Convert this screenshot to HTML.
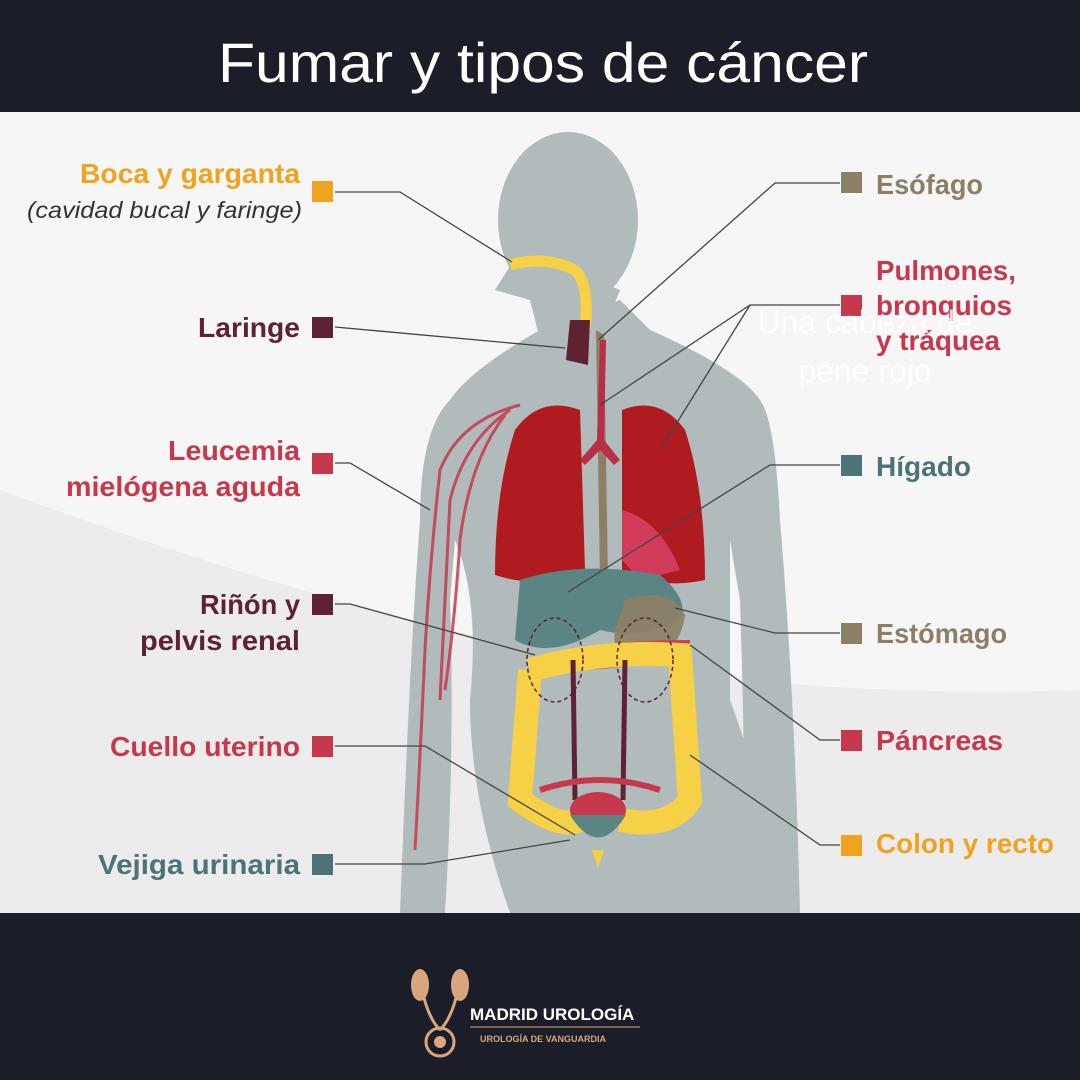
<!DOCTYPE html>
<html><head><meta charset="utf-8"><style>
html,body{margin:0;padding:0;background:#1b1e29}
svg{display:block}
.t{font-family:"Liberation Sans",sans-serif;font-weight:bold;font-size:28px}
</style></head><body>
<svg width="1080" height="1080" viewBox="0 0 1080 1080" xmlns="http://www.w3.org/2000/svg">
<rect width="1080" height="1080" fill="#1b1e29"/>
<text x="218" y="82" textLength="650" lengthAdjust="spacingAndGlyphs" font-family="'Liberation Sans',sans-serif" font-size="56" fill="#fff">Fumar y tipos de cáncer</text>
<rect x="0" y="112" width="1080" height="801" fill="#f6f6f6"/>
<path d="M0 490 Q300 600 540 650 Q800 700 1080 690 L1080 913 L0 913Z" fill="#ececec"/>
<g fill="#b1bbbb">
<ellipse cx="568" cy="220" rx="70" ry="88"/>
<path d="M520 250 L495 290 L530 300 L540 340 L600 340 L620 290Z"/>
<path d="M540 330 Q470 370 450 400 Q420 430 420 520 Q410 650 400 913 L445 913 Q455 750 450 600 L455 540 Q480 600 470 700 Q470 800 510 913 L790 913 Q760 780 730 700 L730 540 L740 600 Q745 750 745 913 L800 913 Q795 700 780 520 Q775 420 760 400 Q740 370 650 330 L620 300Z"/>
</g>
<g stroke="#c8384d" stroke-width="3" fill="none" opacity="0.85">
<path d="M520 405 Q460 420 440 470 Q430 560 425 650 Q420 760 415 850"/>
<path d="M510 410 Q465 440 450 500 Q445 600 440 700"/>
<path d="M505 415 Q470 460 460 540 Q455 620 445 690"/>
</g>
<path d="M510 265 Q545 255 575 270 Q590 285 585 330" stroke="#f6d146" stroke-width="11" fill="none"/>
<path d="M570 320 L590 320 L588 365 L566 360Z" fill="#5e2232"/>
<path d="M596 330 L604 335 L608 580 L600 580Z" fill="#8d7f66"/>
<path d="M600 340 L606 340 L604 440 L620 460 L614 465 L600 450 L585 465 L580 460 L597 440Z" fill="#b82f46"/>
<path d="M580 410 Q540 395 515 430 Q495 490 495 575 Q540 590 585 570Z" fill="#b01b20"/>
<path d="M622 410 Q660 395 685 430 Q705 490 705 580 Q660 590 622 570Z" fill="#b01b20"/>
<path d="M622 510 Q660 520 680 570 L640 580 L622 560Z" fill="#d23c5a"/>
<path d="M520 580 Q580 560 660 575 Q690 600 680 620 Q640 640 600 630 Q550 660 515 640Z" fill="#5b8485"/>
<path d="M625 600 Q670 585 685 615 Q680 655 640 665 Q610 660 615 630Z" fill="#8d7f66" opacity="0.9"/>
<path d="M570 650 Q620 640 690 640 L690 655 Q620 670 575 670Z" fill="#d23c5a"/>
<path d="M530 670 Q600 650 680 655 L690 800 Q670 830 620 820 M530 670 L520 800 Q560 830 580 820" stroke="#f6d146" stroke-width="24" fill="none"/>
<path d="M573 660 L575 800 M625 660 L623 800" stroke="#5e2232" stroke-width="5"/>
<g fill="none" stroke="#5e2232" stroke-dasharray="4 3" stroke-width="1.5">
<ellipse cx="555" cy="660" rx="28" ry="42"/><ellipse cx="645" cy="660" rx="28" ry="42"/>
</g>
<path d="M540 790 Q600 770 660 790" stroke="#c8384d" stroke-width="6" fill="none"/>
<ellipse cx="598" cy="810" rx="28" ry="18" fill="#c8384d"/>
<path d="M570 815 Q598 860 626 815 Z" fill="#5b8485"/>
<path d="M592 850 L604 850 L598 868Z" fill="#f6d146"/>
<g stroke="#444" stroke-width="1.3" fill="none">
<polyline points="335,192 400,192 512,262"/>
<polyline points="335,327 565,348"/>
<polyline points="335,463 350,463 430,510"/>
<polyline points="335,604 350,604 535,655"/>
<polyline points="335,746 425,746 575,835"/>
<polyline points="335,864 425,864 570,840"/>
<polyline points="840,183 775,183 598,340"/>
<polyline points="840,305 750,305 600,405"/>
<polyline points="750,305 660,450"/>
<polyline points="840,465 770,465 568,592"/>
<polyline points="840,633 775,633 675,608"/>
<polyline points="840,740 820,740 690,645"/>
<polyline points="840,845 820,845 690,755"/>
</g>
<g class="t" lengthAdjust="spacingAndGlyphs">
<text x="80" y="183" textLength="220" lengthAdjust="spacingAndGlyphs" fill="#f0a31f">Boca y garganta</text>
<text x="27" y="218" textLength="275" lengthAdjust="spacingAndGlyphs" fill="#333" font-size="23" font-style="italic" font-weight="normal">(cavidad bucal y faringe)</text>
<text x="198" y="337" textLength="102" lengthAdjust="spacingAndGlyphs" fill="#5e2232">Laringe</text>
<text x="168" y="460" textLength="132" lengthAdjust="spacingAndGlyphs" fill="#c8384d">Leucemia</text>
<text x="66" y="496" textLength="234" lengthAdjust="spacingAndGlyphs" fill="#c8384d">mielógena aguda</text>
<text x="200" y="614" textLength="100" lengthAdjust="spacingAndGlyphs" fill="#5e2232">Riñón y</text>
<text x="140" y="650" textLength="160" lengthAdjust="spacingAndGlyphs" fill="#5e2232">pelvis renal</text>
<text x="110" y="756" textLength="190" lengthAdjust="spacingAndGlyphs" fill="#c8384d">Cuello uterino</text>
<text x="98" y="874" textLength="202" lengthAdjust="spacingAndGlyphs" fill="#4c7478">Vejiga urinaria</text>
<text x="876" y="194" textLength="107" lengthAdjust="spacingAndGlyphs" fill="#8d7f66">Esófago</text>
<text x="876" y="280" textLength="140" lengthAdjust="spacingAndGlyphs" fill="#c8384d">Pulmones,</text>
<text x="876" y="315" textLength="136" lengthAdjust="spacingAndGlyphs" fill="#c8384d">bronquios</text>
<text x="876" y="350" textLength="124" lengthAdjust="spacingAndGlyphs" fill="#c8384d">y tráquea</text>
<text x="876" y="476" textLength="95" lengthAdjust="spacingAndGlyphs" fill="#4c7478">Hígado</text>
<text x="876" y="643" textLength="131" lengthAdjust="spacingAndGlyphs" fill="#8d7f66">Estómago</text>
<text x="876" y="750" textLength="127" lengthAdjust="spacingAndGlyphs" fill="#c8384d">Páncreas</text>
<text x="876" y="853" textLength="178" lengthAdjust="spacingAndGlyphs" fill="#f0a31f">Colon y recto</text>
</g>
<rect x="312" y="181" width="21" height="21" fill="#f0a31f"/>
<rect x="312" y="317" width="21" height="21" fill="#5e2232"/>
<rect x="312" y="453" width="21" height="21" fill="#c8384d"/>
<rect x="312" y="594" width="21" height="21" fill="#5e2232"/>
<rect x="312" y="736" width="21" height="21" fill="#c8384d"/>
<rect x="312" y="854" width="21" height="21" fill="#4c7478"/>
<rect x="841" y="172" width="21" height="21" fill="#8d7f66"/>
<rect x="841" y="295" width="21" height="21" fill="#c8384d"/>
<rect x="841" y="455" width="21" height="21" fill="#4c7478"/>
<rect x="841" y="623" width="21" height="21" fill="#8d7f66"/>
<rect x="841" y="730" width="21" height="21" fill="#c8384d"/>
<rect x="841" y="835" width="21" height="21" fill="#f0a31f"/>
<text x="865" y="333" text-anchor="middle" font-family="'Liberation Sans',sans-serif" font-size="32" fill="#fff" opacity="0.8">Una cabeza de</text>
<text x="865" y="382" text-anchor="middle" font-family="'Liberation Sans',sans-serif" font-size="32" fill="#fff" opacity="0.8">pene rojo</text>
<g fill="#d9a57d">
<ellipse cx="420" cy="985" rx="9" ry="16"/><ellipse cx="460" cy="985" rx="9" ry="16"/>
<path d="M424 998 Q430 1020 440 1030 M456 998 Q450 1020 440 1030" stroke="#d9a57d" stroke-width="3" fill="none"/>
<circle cx="440" cy="1042" r="14" fill="none" stroke="#d9a57d" stroke-width="3"/>
<circle cx="440" cy="1042" r="6"/>
</g>
<text x="470" y="1020" font-family="'Liberation Sans',sans-serif" font-weight="bold" font-size="17" fill="#fff">MADRID UROLOGÍA</text>
<line x1="470" y1="1027" x2="640" y2="1027" stroke="#d9a57d" stroke-width="1"/>
<text x="480" y="1042" font-family="'Liberation Sans',sans-serif" font-weight="bold" font-size="9" fill="#d9a57d">UROLOGÍA DE VANGUARDIA</text>
</svg>
</body></html>
